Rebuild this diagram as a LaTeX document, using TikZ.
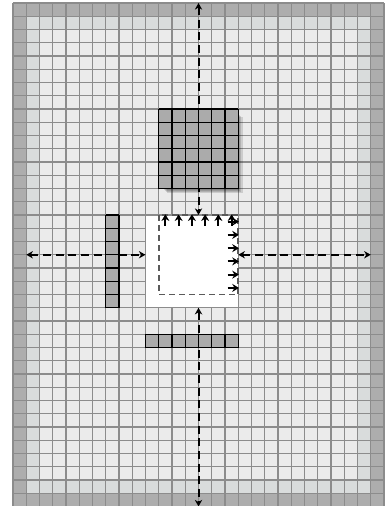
\documentclass[tikz,border=0pt]{standalone}
\usepackage{tikz}
\usetikzlibrary{calc,positioning,arrows.meta}
\definecolor{xOuterRing}{RGB}{173,173,173}
\definecolor{xInnerRing}{RGB}{217,220,220}
\definecolor{xCell}{RGB}{235,235,235}
\definecolor{xGridLine}{RGB}{140,140,140}
\definecolor{xBlock}{RGB}{171,171,171}
\definecolor{xDash}{RGB}{90,90,90}
\tikzset{
  axisarrow/.style={black, line width=1.5pt, dash pattern=on 6pt off 3.5pt,
    {Stealth[length=5pt,width=5.5pt]}-{Stealth[length=5pt,width=5.5pt]}},
  shiftarrow/.style={black, line width=1.4pt, -{Stealth[length=5pt,width=6pt]}},
  darkcells/.style={xBlock},
}

\begin{document}
\begin{tikzpicture}[x=0.35cm,y=0.35cm]
    \useasboundingbox (-0.981,0.04) rectangle (28.075,38.226);

    % background rings and cells
    \fill[xOuterRing] (0,0) rectangle (28,38);
    \fill[xInnerRing] (1,1) rectangle (27,37);
    \fill[xCell] (2,2) rectangle (26,36);
    \draw[step=1, xGridLine, line width=0.85pt] (0,0) grid (28,38);

    % empty window
    \fill[white] (10,15) rectangle (17,22);
    \draw[xGridLine, line width=0.85pt] (10,15) rectangle (17,22);
    \draw[xDash, line width=1.3pt, dash pattern=on 4.5pt off 3pt] (17,22) -- (11,22) -- (11,16) -- (17,16) -- (17,22);

    % axes through the window centre
    \coordinate (axTop) at (14,38);
    \coordinate (axUp) at (14,22);
    \coordinate (axDown) at (14,15);
    \coordinate (axBottom) at (14,0);
    \coordinate (axLeft) at (1,19);
    \coordinate (axWest) at (10,19);
    \coordinate (axEast) at (17,19);
    \coordinate (axRight) at (27,19);
    \draw[axisarrow] (axTop) -- (axUp);
    \draw[axisarrow] (axDown) -- (axBottom);
    \draw[axisarrow] (axLeft) -- (axWest);
    \draw[axisarrow] (axEast) -- (axRight);

    % block with shadow
    \foreach \s in {0.08,0.16,0.24,0.32} {
      \fill[black, opacity=0.13] ($(11.3,24)+(\s,-\s)$) rectangle ($(17,29.7)+(\s,-\s)$);
    }
    \fill[darkcells] (11,24) rectangle (17,30);
    \draw[step=1, black, line width=0.9pt] (11,24) grid (17,30);

    % bars
    \fill[darkcells] (7,15) rectangle (8,22);
    \draw[step=1, black, line width=0.9pt] (7,15) grid (8,22);
    \fill[darkcells] (10,12) rectangle (17,13);
    \draw[step=1, black, line width=0.9pt] (10,12) grid (17,13);

    % shift arrows
    \foreach \i in {0,...,5} {
      \coordinate (upFrom\i) at (11.5+\i,21.2);
      \coordinate (upTo\i) at (11.5+\i,22.05);
      \draw[shiftarrow] (upFrom\i) -- (upTo\i);
      \coordinate (rtFrom\i) at (16.2,21.5-\i);
      \coordinate (rtTo\i) at (17.05,21.5-\i);
      \draw[shiftarrow] (rtFrom\i) -- (rtTo\i);
    }
\end{tikzpicture}
\end{document}
